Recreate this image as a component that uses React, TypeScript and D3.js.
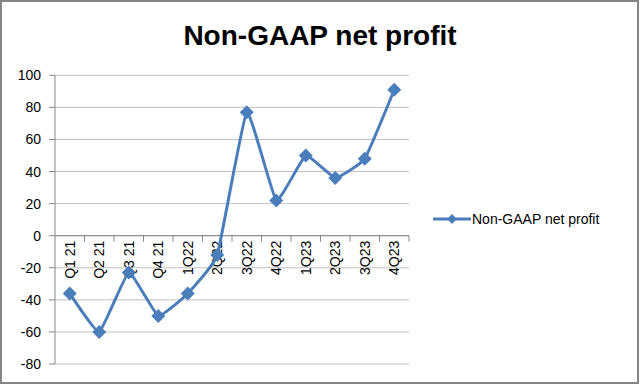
import React from 'react';
import * as d3 from 'd3';

const categories = ['Q1 21', 'Q2 21', 'Q3 21', 'Q4 21', '1Q22', '2Q22', '3Q22', '4Q22', '1Q23', '2Q23', '3Q23', '4Q23'];
const profit = [-36, -60, -23, -50, -36, -12, 77, 22, 50, 36, 48, 91];
const yTicks = [-80, -60, -40, -20, 0, 20, 40, 60, 80, 100];
const seriesName = 'Non-GAAP net profit';

const W = 640;
const H = 385;
const left = 55;
const right = 409;
const top = 75.3;
const bottom = 364;
const blue = '#4a7ebb';
const font = 'Liberation Sans, Arial, sans-serif';

// diamond marker, half-size r
const diamond = (r: number) => `M0,${-r}L${r},0L0,${r}L${-r},0Z`;

const App = () => {
  const x = d3.scaleBand<string>().domain(categories).range([left, right]);
  const y = d3.scaleLinear().domain([-80, 100]).range([bottom, top]);
  const cx = (c: string) => (x(c) as number) + x.bandwidth() / 2;
  const line = d3
    .line<number>()
    .x((_, i) => cx(categories[i]))
    .y((v) => y(v))
    .curve(d3.curveCardinal.tension(0.65));
  const y0 = y(0);

  return (
    <div style={{ position: 'absolute', left: 0, top: 0 }}>
      <svg width={W} height={H} style={{ display: 'block' }}>
        <rect x={0} y={0} width={W} height={H} fill='#fff' />
        <rect x={1} y={1} width={W - 3} height={H - 3} fill='none' stroke='#868686' strokeWidth={2} />
        <text x={320} y={45} textAnchor='middle' fontFamily={font} fontWeight='bold' fontSize={28}>
          {seriesName}
        </text>
        {yTicks.map((t) => (
          <g key={t}>
            <line x1={left} x2={right} y1={y(t)} y2={y(t)} stroke='#c0c0c0' strokeWidth={1} />
            <line x1={left - 6} x2={left} y1={y(t)} y2={y(t)} stroke='#868686' />
            <text x={41} y={y(t) + 5} textAnchor='end' fontFamily={font} fontSize={14}>
              {t}
            </text>
          </g>
        ))}
        <line x1={left} x2={left} y1={top} y2={bottom} stroke='#868686' />
        <line x1={left} x2={right} y1={y0} y2={y0} stroke='#868686' />
        {categories.map((c) => (
          <line key={'t' + c} x1={(x(c) as number) + x.bandwidth()} x2={(x(c) as number) + x.bandwidth()} y1={y0} y2={y0 + 6} stroke='#868686' />
        ))}
        {categories.map((c) => (
          <text
            key={c}
            transform={`translate(${cx(c) + 5},${y0 + 5}) rotate(-90)`}
            textAnchor='end'
            fontFamily={font}
            fontSize={14}
          >
            {c}
          </text>
        ))}
        <path d={line(profit) || ''} fill='none' stroke={blue} strokeWidth={3} />
        {profit.map((v, i) => (
          <path key={i} d={diamond(7)} transform={`translate(${cx(categories[i])},${y(v)})`} fill={blue} />
        ))}
        <line x1={433} x2={471} y1={219} y2={219} stroke={blue} strokeWidth={3} />
        <path d={diamond(5)} transform='translate(452,219)' fill={blue} />
        <text x={472} y={224} fontFamily={font} fontSize={14}>
          {seriesName}
        </text>
      </svg>
    </div>
  );
};

export default App;
